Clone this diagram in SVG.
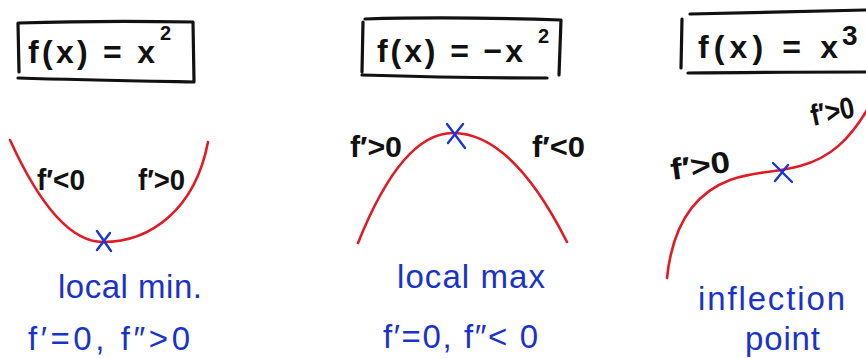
<svg xmlns="http://www.w3.org/2000/svg" width="866" height="358" viewBox="0 0 866 358">
<style>
.box{fill:none;stroke:#111;stroke-width:3.2;stroke-linecap:round;stroke-linejoin:round}
.curve{fill:none;stroke:#e01b24;stroke-width:2.6;stroke-linecap:round}
.mark{fill:none;stroke:#1a34d8;stroke-width:2.4;stroke-linecap:round}
.eq{font-family:"Liberation Sans","DejaVu Sans",sans-serif;font-size:32px;font-weight:bold;fill:#111}
.sup{font-family:"Liberation Sans","DejaVu Sans",sans-serif;font-size:20px;font-weight:bold;fill:#111}
.lbl{font-family:"Liberation Sans","DejaVu Sans",sans-serif;font-size:30px;font-weight:bold;fill:#111}
.note{font-family:"Liberation Sans","DejaVu Sans",sans-serif;font-size:33px;fill:#1a32cc}
</style>
<rect width="866" height="358" fill="#fff"/>

<g id="panel-min">
  <path class="box" d="M18,23 L19,72 M19,23 C80,21 140,21 193,22 L194,81 M18,78 C80,80 140,81 194,82"/>
  <text class="eq" x="28" y="63" textLength="127" lengthAdjust="spacing">f(x) = x</text>
  <text class="sup" x="160" y="40">2</text>
  <path class="curve" d="M10,140 Q 56.5,242 103,242 C 150,242 195,210 208,142"/>
  <path class="mark" d="M97,231 L111,251 M110,233 L97,250"/>
  <text class="lbl" x="37" y="190" textLength="48" lengthAdjust="spacingAndGlyphs">f′&lt;0</text>
  <text class="lbl" x="138" y="190" textLength="47" lengthAdjust="spacingAndGlyphs">f′&gt;0</text>
  <text class="note" x="58" y="298" textLength="144" lengthAdjust="spacing">local min.</text>
  <text class="note" x="28" y="350" textLength="162" lengthAdjust="spacing">f′=0, f″&gt;0</text>
</g>

<g id="panel-max">
  <path class="box" d="M363,22 L362,72 M365,19 C430,17 500,18 561,20 L559,75 M362,75 C430,77 490,78 547,78"/>
  <text class="eq" x="377" y="62" textLength="146" lengthAdjust="spacing">f(x) = −x</text>
  <text class="sup" x="538" y="43">2</text>
  <path class="curve" d="M358,243 Q 402,133 453,133 Q 512,133 567,242"/>
  <path class="mark" d="M447,124 L465,148 M463,124 L448,143"/>
  <text class="lbl" x="350" y="157" textLength="52" lengthAdjust="spacingAndGlyphs">f′&gt;0</text>
  <text class="lbl" x="532" y="157" textLength="53" lengthAdjust="spacingAndGlyphs">f′&lt;0</text>
  <text class="note" x="397" y="288" textLength="148" lengthAdjust="spacing">local max</text>
  <text class="note" x="383" y="348" textLength="155" lengthAdjust="spacing">f′=0, f″&lt; 0</text>
</g>

<g id="panel-inflection">
  <path class="box" d="M682,19 L681,68 M690,14 C760,12 820,11 866,10 M688,73 C760,72 820,72 866,72"/>
  <text class="eq" x="698" y="58" textLength="140" lengthAdjust="spacing">f(x) = x</text>
  <text class="sup" x="842" y="45" style="font-size:28px">3</text>
  <path class="curve" d="M667,278 C 672,230 690,195 730,180 C 755,171 775,173 800,166 C 830,158 850,140 870,105"/>
  <path class="mark" d="M773,163 L792,182 M788,165 L775,181"/>
  <text class="lbl" x="672" y="180" textLength="60" lengthAdjust="spacingAndGlyphs" transform="rotate(-8 672 180)">f′&gt;0</text>
  <text class="lbl" x="813" y="126" textLength="44" lengthAdjust="spacingAndGlyphs" transform="rotate(-12 813 126)">f′&gt;0</text>
  <text class="note" x="698" y="310" textLength="147" lengthAdjust="spacing">inflection</text>
  <text class="note" x="745" y="350" textLength="75" lengthAdjust="spacing">point</text>
</g>
</svg>
